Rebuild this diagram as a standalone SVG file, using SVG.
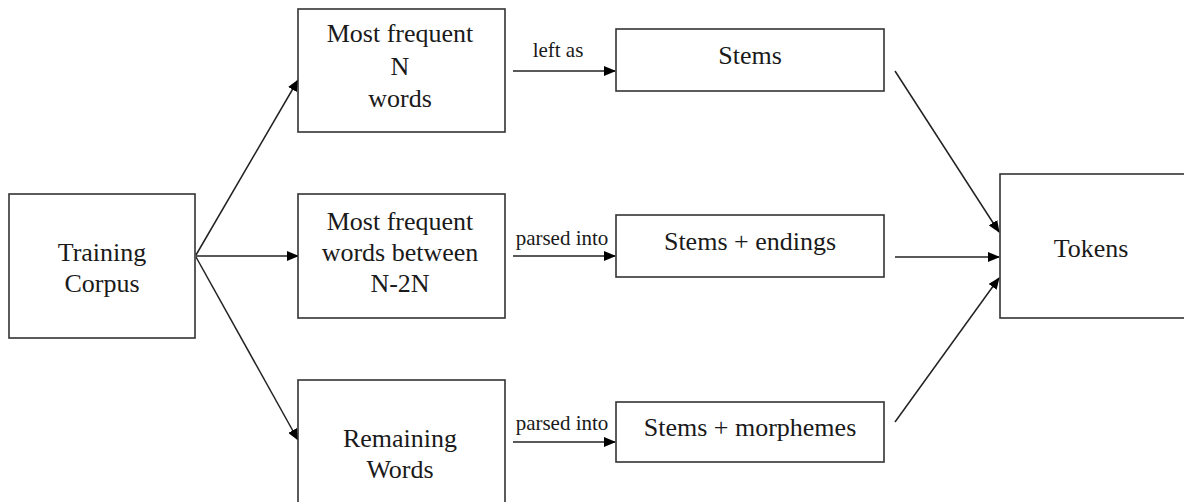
<svg xmlns="http://www.w3.org/2000/svg" width="1184" height="502" viewBox="0 0 1184 502">
<style>
.box{fill:#fff;stroke:#333;stroke-width:1.6}
.t{font-family:"Liberation Serif","Times New Roman",serif;font-size:26px;fill:#1a1a1a;text-anchor:middle}
.lbl{font-family:"Liberation Serif","Times New Roman",serif;font-size:21px;fill:#1a1a1a;text-anchor:middle}
.c{stroke:#222;stroke-width:1.5;fill:none;marker-end:url(#ah)}
</style>
<defs>
<marker id="ah" markerUnits="userSpaceOnUse" markerWidth="12" markerHeight="10" refX="11" refY="5" orient="auto">
<path d="M0,0 L12,5 L0,10 z" fill="#000"/>
</marker>
</defs>
<rect width="1184" height="502" fill="#fff"/>
<g id="connectors">
<line class="c" x1="196" y1="255" x2="298" y2="80"/>
<line class="c" x1="196" y1="256" x2="298" y2="256"/>
<line class="c" x1="196" y1="257" x2="298" y2="440"/>
<line class="c" x1="513" y1="71" x2="615" y2="71"/>
<line class="c" x1="513" y1="256" x2="615" y2="256"/>
<line class="c" x1="513" y1="442" x2="615" y2="442"/>
<line class="c" x1="895" y1="71" x2="999" y2="232"/>
<line class="c" x1="895" y1="257" x2="999" y2="257"/>
<line class="c" x1="895" y1="422" x2="999" y2="278"/>
<text class="lbl" x="558" y="57">left as</text>
<text class="lbl" x="562" y="245">parsed into</text>
<text class="lbl" x="562" y="430">parsed into</text>
</g>
<g id="training">
<rect class="box" x="9" y="194" width="186" height="144"/>
<text class="t" x="102" y="261">Training</text>
<text class="t" x="102" y="292">Corpus</text>
</g>
<g id="topN">
<rect class="box" x="298" y="9" width="207" height="123"/>
<text class="t" x="400" y="42">Most frequent</text>
<text class="t" x="400" y="75">N</text>
<text class="t" x="400" y="107">words</text>
</g>
<g id="midN">
<rect class="box" x="298" y="194" width="207" height="124"/>
<text class="t" x="400" y="230">Most frequent</text>
<text class="t" x="400" y="261">words between</text>
<text class="t" x="400" y="292">N-2N</text>
</g>
<g id="remaining">
<rect class="box" x="298" y="380" width="207" height="130"/>
<text class="t" x="400" y="447">Remaining</text>
<text class="t" x="400" y="478">Words</text>
</g>
<g id="stems">
<rect class="box" x="616" y="29" width="268" height="62"/>
<text class="t" x="750" y="64">Stems</text>
</g>
<g id="stemsEndings">
<rect class="box" x="616" y="215" width="268" height="62"/>
<text class="t" x="750" y="250">Stems + endings</text>
</g>
<g id="stemsMorphemes">
<rect class="box" x="616" y="402" width="268" height="60"/>
<text class="t" x="750" y="436">Stems + morphemes</text>
</g>
<g id="tokens">
<rect class="box" x="1000" y="174" width="190" height="144"/>
<text class="t" x="1091" y="257">Tokens</text>
</g>
</svg>
